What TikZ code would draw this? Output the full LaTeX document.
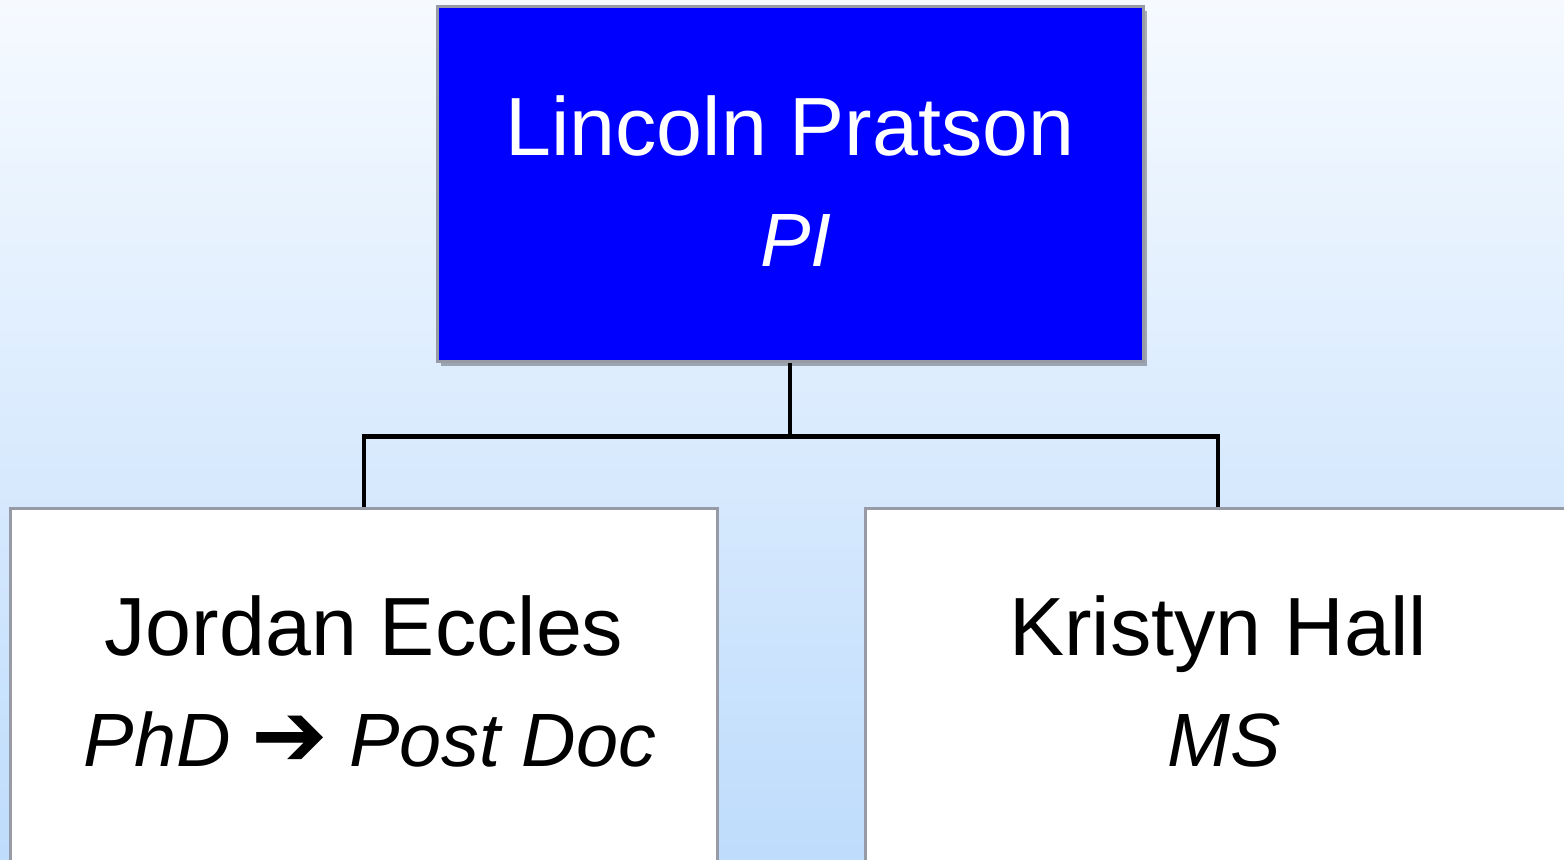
\documentclass[tikz,border=0pt]{standalone}
\usepackage{fontspec}
\setmainfont{Liberation Sans}
\newfontfamily\arrowfont{DejaVu Sans}
\usetikzlibrary{positioning, shadows, calc}
\definecolor{mBlue}{RGB}{0,0,255}
\definecolor{bgTop}{RGB}{246,250,255}
\definecolor{bgBot}{RGB}{190,220,252}
\definecolor{mEdge}{RGB}{150,155,165}

\begin{document}
\begin{tikzpicture}[
    box/.style={draw=mEdge, line width=0.3mm, minimum width=70.6mm, inner sep=0pt},
    person/.style={anchor=base, font=\fontsize{23.5}{28}\selectfont},
    role/.style={anchor=base, xshift=0.6mm, font=\fontsize{21.5}{26}\selectfont\itshape},
    link/.style={line width=0.45mm, black}]
    \useasboundingbox (0,0) rectangle (15.64,8.60);
    \clip (0,0) rectangle (15.64,8.60);
    \shade[top color=bgTop, bottom color=bgBot] (0,0) rectangle (15.64,8.60);
    % boxes
    \node[box, fill=mBlue, minimum height=35.5mm,
      drop shadow={shadow xshift=0.4mm, shadow yshift=-0.4mm, fill=black, opacity=0.3}]
      (pi) at (7.90,6.755) {};
    \node[box, fill=white, minimum height=40mm] (jordan) at (3.64,1.51) {};
    \node[box, fill=white, minimum height=40mm] (kristyn) at (12.18,1.51) {};
    % texts
    \node[person, text=white] (piName) at ($(pi.north)+(0,-1.50)$) {Lincoln Pratson};
    \node[role, text=white] (piRole) at ($(pi.north)+(0,-2.61)$) {PI};
    \foreach \n/\who/\what in {jordan/Jordan Eccles/PhD {\upshape\fontsize{26}{26}\selectfont\arrowfont ➔} Post Doc,
                               kristyn/Kristyn Hall/MS} {
      \node[person] (\n Name) at ($(\n.north)+(0,-1.48)$) {\who};
      \node[role] (\n Role) at ($(\n.north)+(0,-2.59)$) {\what};
    }
    % connectors
    \coordinate (fork) at ($(pi.south)+(0,-0.73)$);
    \draw[link] (pi.south) -- (fork) -| (jordan.north);
    \draw[link] (fork) -| (kristyn.north);
\end{tikzpicture}
\end{document}
